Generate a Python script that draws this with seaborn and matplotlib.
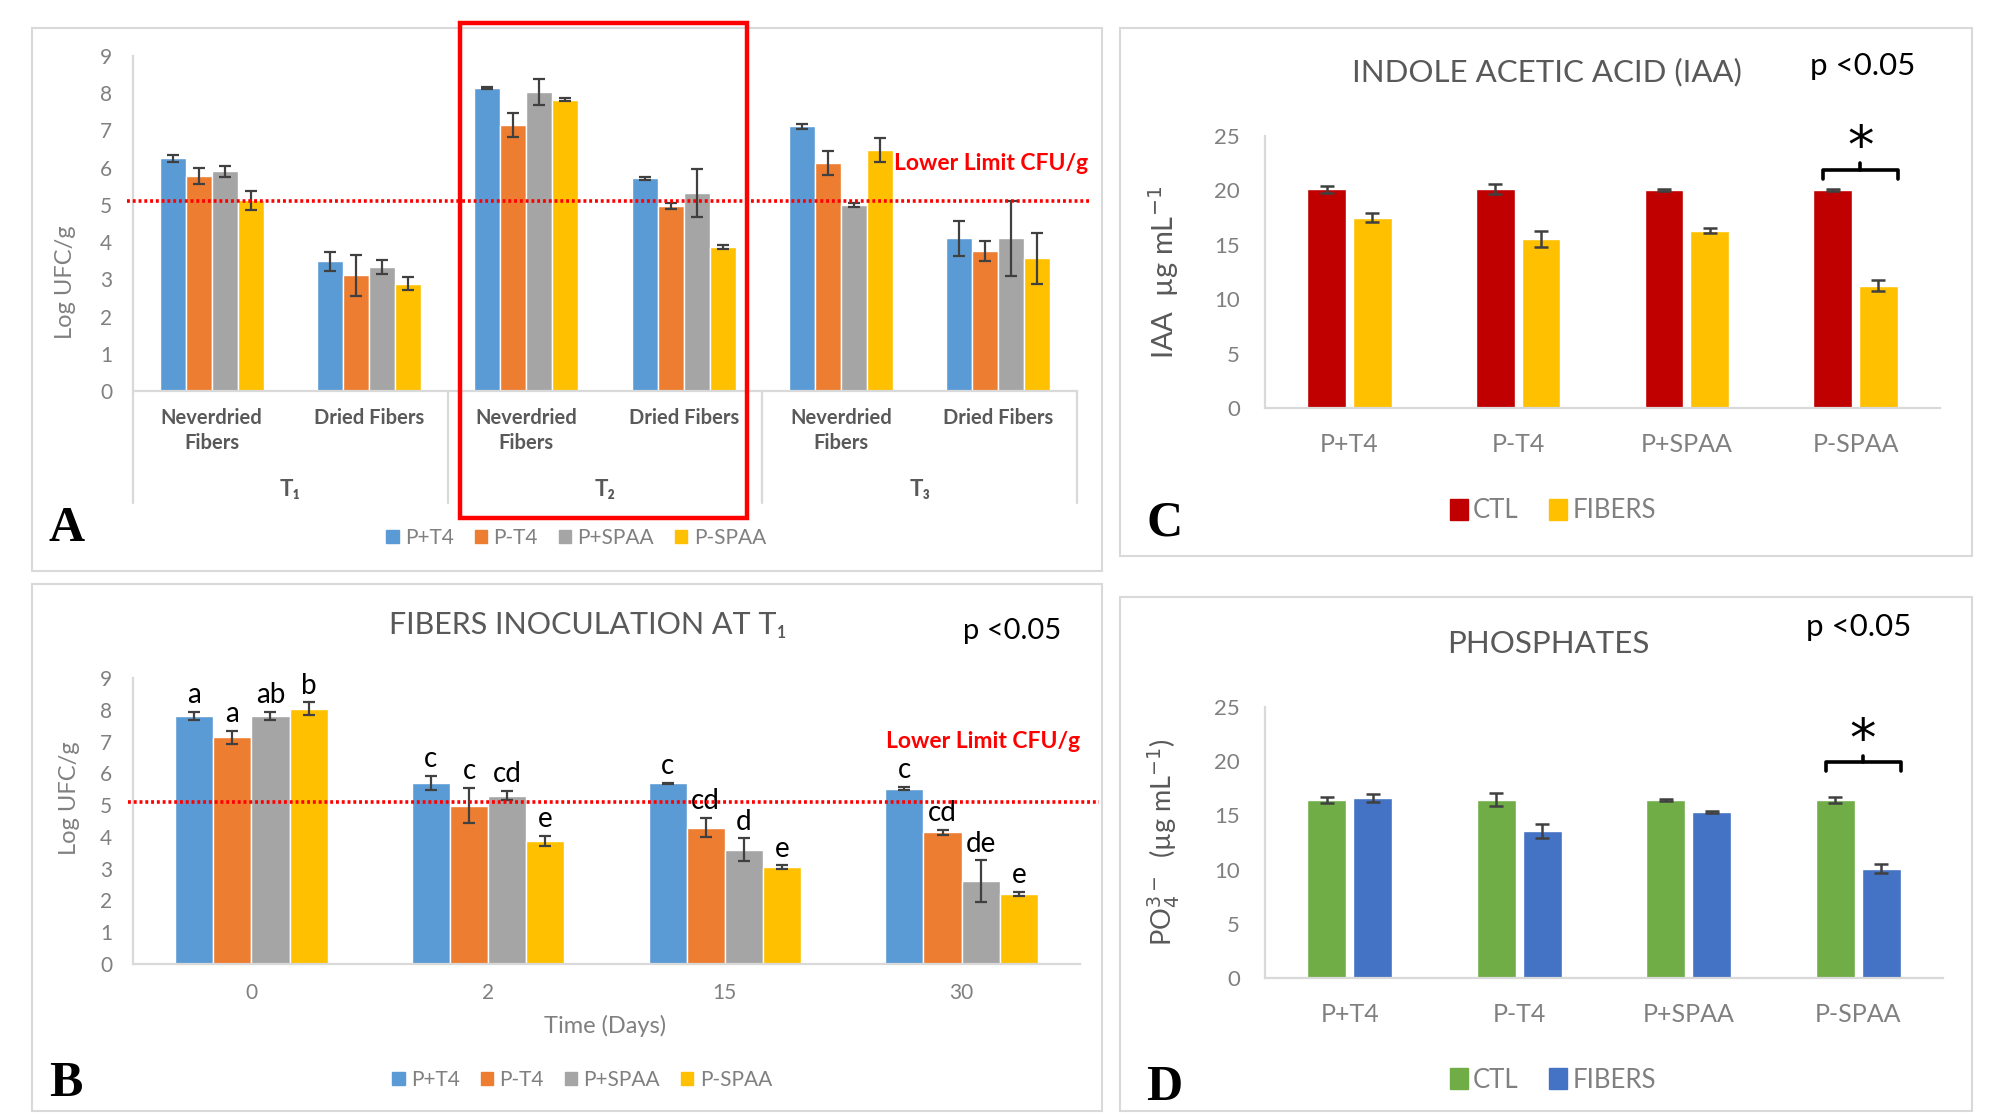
import matplotlib
matplotlib.use("Agg")
import matplotlib.pyplot as plt
from matplotlib.patches import Rectangle, Patch
import pandas as pd
import seaborn as sns

sns.set_theme(style="white")
NARROW = ['Lato', 'DejaVu Sans']
HUMAN = ['Lato', 'DejaVu Sans']
plt.rcParams['font.family'] = NARROW

# ---------------- data ----------------
treatments = ["P+T4", "P-T4", "P+SPAA", "P-SPAA"]
treat_colors = ["#5B9BD5", "#ED7D31", "#A5A5A5", "#FFC000"]

# Panel A
a_categories = ["T1 Neverdried", "T1 Dried", "T2 Neverdried", "T2 Dried", "T3 Neverdried", "T3 Dried"]
a_tick_labels = ["Neverdried\nFibers", "Dried Fibers"] * 3
a_times = ["T₁", "T₂", "T₃"]
a_pt4 = [6.25, 3.48, 8.14, 5.71, 7.11, 4.10]
a_pt4_err = [0.10, 0.25, 0.03, 0.05, 0.07, 0.47]
a_mt4 = [5.78, 3.11, 7.15, 4.97, 6.12, 3.76]
a_mt4_err = [0.22, 0.55, 0.32, 0.08, 0.33, 0.28]
a_pspaa = [5.90, 3.33, 8.04, 5.32, 5.00, 4.10]
a_pspaa_err = [0.14, 0.18, 0.35, 0.65, 0.06, 1.00]
a_mspaa = [5.12, 2.88, 7.83, 3.86, 6.47, 3.56]
a_mspaa_err = [0.25, 0.17, 0.04, 0.05, 0.32, 0.68]
lower_limit = 5.1

# Panel B
b_days = ["0", "2", "15", "30"]
b_pt4 = [7.81, 5.70, 5.69, 5.52]
b_pt4_err = [0.12, 0.22, 0.02, 0.06]
b_mt4 = [7.13, 4.98, 4.29, 4.14]
b_mt4_err = [0.20, 0.55, 0.30, 0.07]
b_pspaa = [7.81, 5.30, 3.59, 2.60]
b_pspaa_err = [0.12, 0.15, 0.36, 0.66]
b_mspaa = [8.03, 3.87, 3.05, 2.20]
b_mspaa_err = [0.20, 0.15, 0.05, 0.06]
b_pt4_letters = ["a", "c", "c", "c"]
b_mt4_letters = ["a", "c", "cd", "cd"]
b_pspaa_letters = ["ab", "cd", "d", "de"]
b_mspaa_letters = ["b", "e", "e", "e"]

# Panel C (IAA)
c_groups = ["P+T4", "P-T4", "P+SPAA", "P-SPAA"]
c_ctl = [20.10, 20.10, 20.05, 20.05]
c_ctl_err = [0.30, 0.45, 0.08, 0.08]
c_fib = [17.50, 15.55, 16.30, 11.25]
c_fib_err = [0.40, 0.75, 0.20, 0.50]

# Panel D (phosphates)
d_ctl = [16.40, 16.45, 16.45, 16.40]
d_ctl_err = [0.30, 0.60, 0.10, 0.30]
d_fib = [16.60, 13.60, 15.30, 10.10]
d_fib_err = [0.40, 0.65, 0.10, 0.45]

cd_series = ["CTL", "FIBERS"]
c_colors = ["#C00000", "#FFC000"]
d_colors = ["#70AD47", "#4472C4"]

# ---------------- layout helpers ----------------
W, H = 1991, 1113
fig = plt.figure(figsize=(W / 100, H / 100), dpi=100)
fig.patch.set_facecolor("white")


def fx(x):
    return x / W


def fy(y):
    return 1 - y / H


def axes_px(left, right, top, bottom):
    return fig.add_axes([fx(left), fy(bottom), fx(right) - fx(left), fy(top) - fy(bottom)])


def box_px(x0, x1, y0, y1, color="#D9D9D9", lw=1.5, z=0):
    fig.add_artist(Rectangle((fx(x0), fy(y1)), fx(x1) - fx(x0), fy(y0) - fy(y1),
                             transform=fig.transFigure, fill=False, edgecolor=color,
                             lw=lw, zorder=z))


def add_errbars(ax, errs_by_hue, lw=1.6, cap=4):
    for cont, errs in zip(ax.containers, errs_by_hue):
        xs = [b.get_x() + b.get_width() / 2 for b in cont]
        ys = [b.get_height() for b in cont]
        ax.errorbar(xs, ys, yerr=errs, fmt='none', ecolor='#404040', elinewidth=lw,
                    capsize=cap, capthick=lw, zorder=5)


def style_axes(ax, ymax, yticks, tick_fs, tick_family, ypad, xpad, xfs, xcolor):
    ax.set_ylim(0, ymax)
    ax.set_yticks(yticks)
    for s in ['top', 'right']:
        ax.spines[s].set_visible(False)
    for s in ['left', 'bottom']:
        ax.spines[s].set_color('#D9D9D9')
        ax.spines[s].set_linewidth(1.6)
    ax.tick_params(axis='y', direction='in', length=6, width=1.3, color='#D9D9D9',
                   labelcolor='#808080', labelsize=tick_fs, pad=ypad)
    ax.tick_params(axis='x', length=0, labelcolor=xcolor, labelsize=xfs, pad=xpad)
    for t in ax.get_yticklabels():
        t.set_family(tick_family)
    ax.set_xlabel('')
    ax.set_ylabel('')
    ax.patch.set_alpha(0)


def long_df(cats, series_names, series_vals):
    rows = []
    for name, vals in zip(series_names, series_vals):
        for c, v in zip(cats, vals):
            rows.append({"cat": c, "series": name, "value": v})
    return pd.DataFrame(rows)


# panel frames
box_px(32, 1102, 28, 571)
box_px(32, 1102, 584, 1111)
box_px(1120, 1972, 28, 556)
box_px(1120, 1972, 597, 1111)

# ================= Panel A =================
axA = axes_px(133, 1077, 56, 391)
dfA = long_df(a_categories, treatments, [a_pt4, a_mt4, a_pspaa, a_mspaa])
sns.barplot(data=dfA, x="cat", y="value", hue="series", order=a_categories,
            hue_order=treatments, palette=treat_colors, width=0.66, errorbar=None,
            saturation=1, legend=False, ax=axA)
add_errbars(axA, [a_pt4_err, a_mt4_err, a_pspaa_err, a_mspaa_err])
axA.set_xlim(-0.5, len(a_categories) - 0.5)
style_axes(axA, 9, range(0, 10), 15, NARROW, 15, 12, 14.5, '#595959')
axA.set_xticks(range(len(a_categories)))
axA.set_xticklabels(a_tick_labels, linespacing=1.35, fontweight='bold', fontsize=14.5,
                    color='#595959', family=NARROW)
axA.set_ylabel("Log UFC/g", fontsize=17, color='#808080')
axA.yaxis.set_label_coords(-0.06, 0.325)
trans = axA.get_xaxis_transform()
for b in [-0.5, 1.5, 3.5, 5.5]:
    axA.plot([b, b], [0, -0.335], transform=trans, clip_on=False, color='#D9D9D9', lw=1.6)
for i, t in enumerate(a_times):
    axA.text(2 * i + 0.5, -0.293, t, transform=trans, ha='center', va='center',
             fontsize=16, fontweight='bold', color='#595959', family=NARROW)
axA.axhline(lower_limit, xmin=-0.006, xmax=1.015, clip_on=False, color='#FF0000',
            lw=2.6, ls=(0, (0.8, 0.8)), zorder=6)
axA.text(0.806, 6.1, "Lower Limit CFU/g", transform=axA.get_yaxis_transform(),
         ha='left', va='center', color='#FF0000', fontsize=16.5, fontweight='bold',
         clip_on=False)
axA.legend(handles=[Patch(color=c) for c in treat_colors], labels=treatments,
           loc='center', bbox_to_anchor=(fx(576), fy(538)), bbox_transform=fig.transFigure,
           ncol=4, frameon=False, handlelength=0.6, handleheight=0.6, handletextpad=0.3,
           columnspacing=1.0, fontsize=15, labelcolor='#808080')
# red highlight rectangle
box_px(460, 747, 23, 518, color='#FF0000', lw=3.2, z=20)

# ================= Panel B =================
axB = axes_px(133, 1080, 678, 964)
dfB = long_df(b_days, treatments, [b_pt4, b_mt4, b_pspaa, b_mspaa])
sns.barplot(data=dfB, x="cat", y="value", hue="series", order=b_days,
            hue_order=treatments, palette=treat_colors, width=0.645, errorbar=None,
            saturation=1, legend=False, ax=axB)
b_errs = [b_pt4_err, b_mt4_err, b_pspaa_err, b_mspaa_err]
add_errbars(axB, b_errs)
b_letters = [b_pt4_letters, b_mt4_letters, b_pspaa_letters, b_mspaa_letters]
for cont, errs, lets in zip(axB.containers, b_errs, b_letters):
    for bar, e, l in zip(cont, errs, lets):
        axB.text(bar.get_x() + bar.get_width() / 2, bar.get_height() + e + 0.12, l,
                 ha='center', va='bottom', fontsize=20, color='black', family=HUMAN)
axB.set_xlim(-0.5, len(b_days) - 0.5)
style_axes(axB, 9, range(0, 10), 15, NARROW, 15, 14, 15, '#808080')
axB.set_ylabel("Log UFC/g", fontsize=17, color='#808080')
axB.yaxis.set_label_coords(-0.056, 0.58)
axB.text(0.498, -0.217, "Time (Days)", transform=axB.transAxes, ha='center', va='center',
         fontsize=17, color='#808080')
axB.text(0.48, 1.185, "FIBERS INOCULATION AT T₁", transform=axB.transAxes, ha='center',
         va='center', fontsize=22, color='#595959')
axB.text(0.928, 1.164, "p <0.05", transform=axB.transAxes, ha='center', va='center',
         fontsize=21, color='black', family=HUMAN)
axB.axhline(lower_limit, xmin=-0.005, xmax=1.02, clip_on=False, color='#FF0000',
            lw=2.6, ls=(0, (0.8, 0.8)), zorder=6)
axB.text(0.795, 7.0, "Lower Limit CFU/g", transform=axB.get_yaxis_transform(),
         ha='left', va='center', color='#FF0000', fontsize=16.5, fontweight='bold',
         clip_on=False)
axB.legend(handles=[Patch(color=c) for c in treat_colors], labels=treatments,
           loc='center', bbox_to_anchor=(fx(582), fy(1080)), bbox_transform=fig.transFigure,
           ncol=4, frameon=False, handlelength=0.6, handleheight=0.6, handletextpad=0.3,
           columnspacing=1.0, fontsize=15, labelcolor='#808080')


# ================= Panels C and D =================
def pair_panel(ax, ctl, ctl_err, fib, fib_err, colors, title, ylabel, ylabel_fs, ylabel_y,
               p_xy, title_y, bracket, star_y, legend_y):
    df = long_df(c_groups, cd_series, [ctl, fib])
    sns.barplot(data=df, x="cat", y="value", hue="series", order=c_groups,
                hue_order=cd_series, palette=colors, width=0.54, gap=0.15,
                errorbar=None, saturation=1, legend=False, ax=ax)
    add_errbars(ax, [ctl_err, fib_err], lw=1.8, cap=5)
    ax.set_xlim(-0.5, len(c_groups) - 0.5)
    style_axes(ax, 25, range(0, 30, 5), 16, HUMAN, 18, 18, 18, '#808080')
    ax.set_ylabel(ylabel, fontsize=ylabel_fs, color='#595959', family=HUMAN)
    ax.yaxis.set_label_coords(-0.124, ylabel_y)
    ax.text(0.418, title_y, title, transform=ax.transAxes, ha='center', va='center',
            fontsize=22.5, color='#595959', family=HUMAN)
    ax.text(p_xy[0], p_xy[1], "p <0.05", transform=ax.transAxes, ha='center', va='center',
            fontsize=22.5, color='black', family=HUMAN)
    # significance bracket over last group
    b_ctl = ax.containers[0][-1]
    b_fib = ax.containers[1][-1]
    xl = b_ctl.get_x() + 0.25 * b_ctl.get_width()
    xr = b_fib.get_x() + b_fib.get_width()
    xm = (xl + xr) / 2
    y_end, y_top, y_tick = bracket
    ax.plot([xl, xl, xr, xr], [y_end, y_top, y_top, y_end], color='black', lw=2.6,
            solid_joinstyle='round', clip_on=False)
    ax.plot([xm, xm], [y_top, y_tick], color='black', lw=2.6, clip_on=False)
    ax.text(xm, star_y, "*", ha='center', va='center', fontsize=38, color='black',
            family='DejaVu Sans')
    ax.legend(handles=[Patch(color=c) for c in colors], labels=cd_series,
              loc='center', bbox_to_anchor=(fx(1553), fy(legend_y)),
              bbox_transform=fig.transFigure, ncol=2, frameon=False, handlelength=0.7,
              handleheight=0.9, handletextpad=0.2, columnspacing=1.2,
              labelcolor='#808080', prop={'family': HUMAN, 'size': 18.5})


axC = axes_px(1265, 1940, 136, 408)
pair_panel(axC, c_ctl, c_ctl_err, c_fib, c_fib_err, c_colors,
           "INDOLE ACETIC ACID (IAA)", "IAA  µg mL$^{-1}$", 21, 0.50,
           (0.886, 1.257), 1.235, (21.05, 21.9, 22.5), 23.9, 511)

axD = axes_px(1265, 1943, 707, 978)
pair_panel(axD, d_ctl, d_ctl_err, d_fib, d_fib_err, d_colors,
           "PHOSPHATES", "PO$_4^{3-}$  (µg mL$^{-1}$)", 19.5, 0.50,
           (0.875, 1.295), 1.232, (19.1, 19.9, 20.5), 21.9, 1080)

# panel letters
for lab, x, y in [("A", 67, 541), ("B", 66, 1096), ("C", 1165, 535), ("D", 1164, 1100)]:
    fig.text(fx(x), fy(y), lab, ha='center', va='baseline', fontsize=36,
             fontweight='bold', family='Liberation Serif', color='black')

fig.savefig("out.png", dpi=100, facecolor='white')
